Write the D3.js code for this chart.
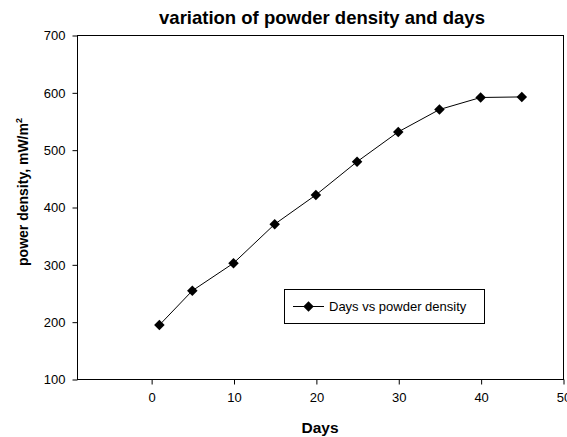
<!DOCTYPE html>
<html>
<head>
<meta charset="utf-8">
<script src="https://cdn.jsdelivr.net/npm/d3@7"></script>
<style>
  body { margin: 0; background: #fff; }
  text { font-family: "Liberation Sans", Arial, sans-serif; fill: #000; }
</style>
</head>
<body>
<svg width="567" height="437"></svg>
<script>
// data
var days = [1, 5, 10, 15, 20, 25, 30, 35, 40, 45];
var density = [194, 254, 302, 370, 421, 479, 531, 570, 591, 592];
var xTicks = [0, 10, 20, 30, 40, 50];
var yTicks = [100, 200, 300, 400, 500, 600, 700];

var svg = d3.select("svg");

var x = d3.scaleLinear().domain([-9, 50]).range([77, 563]);
var y = d3.scaleLinear().domain([100, 700]).range([379, 35]);

// frame (top + right)
svg.append("rect")
  .attr("x", 77.5).attr("y", 35.5)
  .attr("width", 563 - 77).attr("height", 379 - 35)
  .style("fill", "none").style("stroke", "black").style("stroke-width", "1px");

var xAxis = svg.append("g")
  .attr("transform", "translate(0.5,379.5)")
  .call(d3.axisBottom(x).tickValues(xTicks).tickSize(5).tickPadding(8));
var yAxis = svg.append("g")
  .attr("transform", "translate(77.5,0.5)")
  .call(d3.axisLeft(y).tickValues(yTicks).tickSize(5).tickPadding(7));

[xAxis, yAxis].forEach(function(a) {
  a.select(".domain").remove();
  a.selectAll("line").style("stroke", "black");
  a.selectAll("text")
    .style("font-family", "'Liberation Sans', Arial, sans-serif")
    .style("font-size", "13px");
});

// line + diamonds
var line = d3.line()
  .x(function(d, i) { return x(days[i]); })
  .y(function(d) { return y(d); });

svg.append("path")
  .datum(density)
  .attr("d", line)
  .style("fill", "none")
  .style("stroke", "black")
  .style("stroke-width", "1px");

var diamond = d3.symbol().type(d3.symbolSquare).size(55);

svg.selectAll(".pt")
  .data(density)
  .enter().append("path")
  .attr("class", "pt")
  .attr("transform", function(d, i) { return "translate(" + x(days[i]) + "," + y(d) + ") rotate(45)"; })
  .attr("d", diamond)
  .style("fill", "black");

// title and axis labels
svg.append("text")
  .attr("x", 322).attr("y", 24)
  .attr("text-anchor", "middle")
  .style("font-size", "18.5px").style("font-weight", "bold")
  .text("variation of powder density and days");

svg.append("text")
  .attr("x", 320).attr("y", 433)
  .attr("text-anchor", "middle")
  .style("font-size", "15.5px").style("font-weight", "bold")
  .text("Days");

var yl = svg.append("text")
  .attr("transform", "translate(28,192) rotate(-90)")
  .attr("text-anchor", "middle")
  .style("font-size", "14px").style("font-weight", "bold");
yl.append("tspan").text("power density, mW/m");
yl.append("tspan").attr("dy", -6).style("font-size", "9px").text("2");

// legend
var lg = svg.append("g");
lg.append("rect")
  .attr("x", 284.5).attr("y", 289.5).attr("width", 200).attr("height", 34)
  .style("fill", "white").style("stroke", "black").style("stroke-width", "1px");
lg.append("line")
  .attr("x1", 293).attr("x2", 324).attr("y1", 306.5).attr("y2", 306.5)
  .style("stroke", "black");
lg.append("path")
  .attr("transform", "translate(308.5,306.5) rotate(45)")
  .attr("d", diamond)
  .style("fill", "black");
lg.append("text")
  .attr("x", 329).attr("y", 311)
  .style("font-size", "13px")
  .text("Days vs powder density");
</script>
</body>
</html>
